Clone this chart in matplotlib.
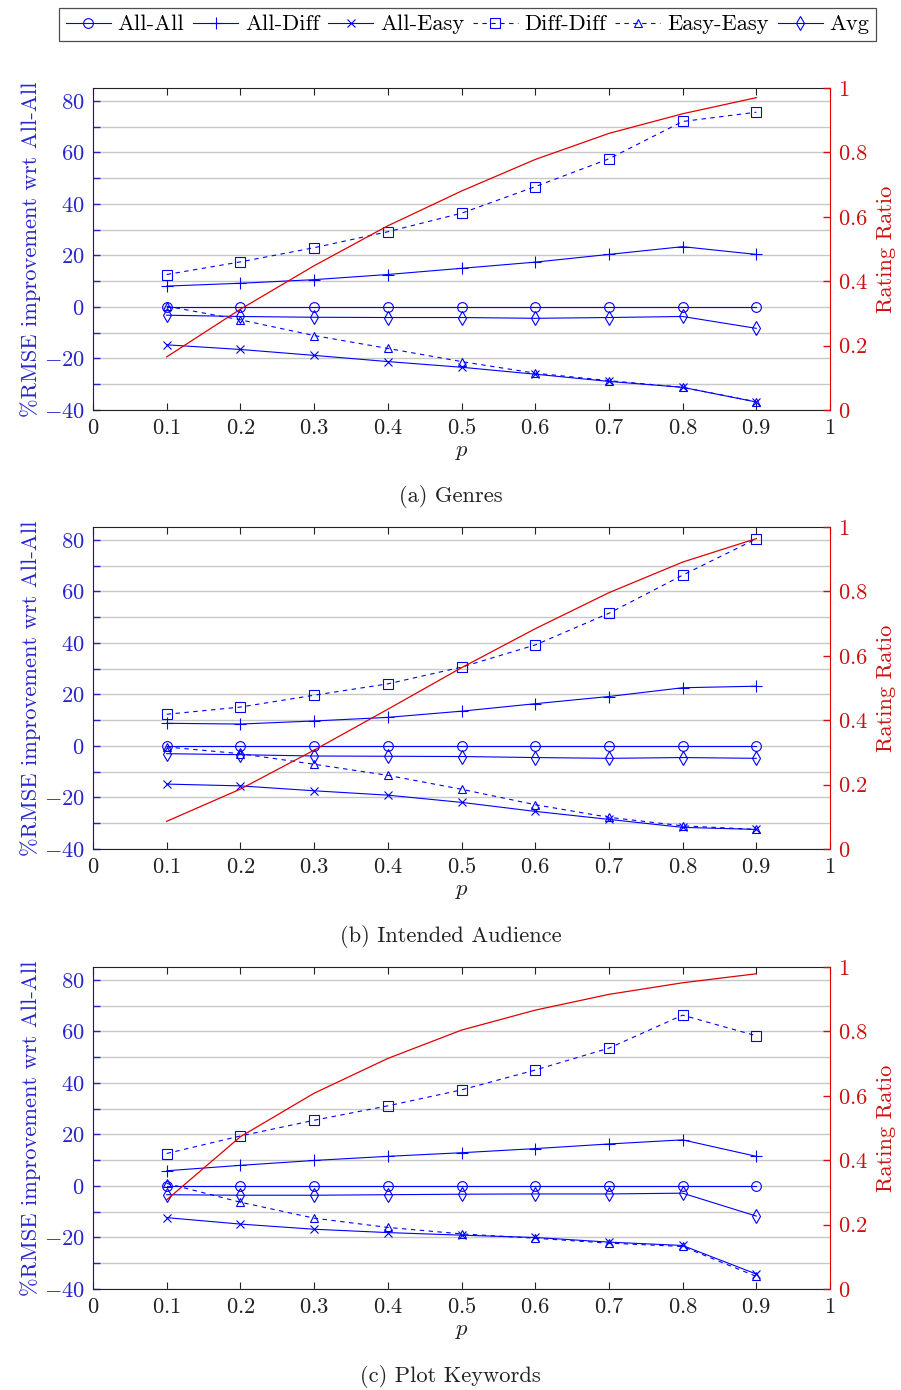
import matplotlib
matplotlib.use("Agg")
import matplotlib.pyplot as plt

plt.rcParams['font.family'] = ['cmr10', 'DejaVu Serif']
plt.rcParams['mathtext.fontset'] = 'cm'
plt.rcParams['axes.unicode_minus'] = False

p = [0.1, 0.2, 0.3, 0.4, 0.5, 0.6, 0.7, 0.8, 0.9]

# (a) Genres
a_all_all = [0, 0, 0, 0, 0, 0, 0, 0, 0]
a_all_diff = [8.1, 9.2, 10.6, 12.6, 15.0, 17.4, 20.4, 23.4, 20.4]
a_all_easy = [-14.7, -16.5, -18.8, -21.2, -23.4, -26.1, -28.9, -31.2, -36.9]
a_diff_diff = [12.6, 17.5, 23.0, 29.2, 36.4, 46.7, 57.5, 72.0, 75.6]
a_easy_easy = [0.3, -5.0, -11.1, -16.1, -21.2, -25.7, -28.6, -31.2, -36.8]
a_avg = [-3.2, -3.7, -4.0, -4.1, -4.1, -4.4, -4.1, -3.7, -8.3]
a_ratio = [0.165, 0.313, 0.448, 0.572, 0.680, 0.778, 0.859, 0.920, 0.970]

# (b) Intended Audience
b_all_all = [0, 0, 0, 0, 0, 0, 0, 0, 0]
b_all_diff = [8.8, 8.5, 9.7, 11.1, 13.5, 16.4, 19.2, 22.6, 23.2]
b_all_easy = [-14.8, -15.5, -17.4, -19.1, -21.9, -25.4, -28.5, -31.6, -32.4]
b_diff_diff = [12.3, 15.1, 19.7, 24.1, 30.6, 39.2, 51.5, 66.3, 80.4]
b_easy_easy = [-0.4, -3.0, -7.1, -11.4, -16.8, -22.8, -27.7, -31.0, -32.4]
b_avg = [-3.0, -3.4, -3.9, -4.0, -4.1, -4.5, -4.8, -4.5, -4.8]
b_ratio = [0.086, 0.186, 0.307, 0.434, 0.563, 0.684, 0.796, 0.891, 0.964]

# (c) Plot Keywords
c_all_all = [0, 0, 0, 0, 0, 0, 0, 0, 0]
c_all_diff = [5.9, 8.0, 9.9, 11.5, 12.9, 14.5, 16.3, 17.9, 11.5]
c_all_easy = [-12.3, -14.8, -16.8, -18.1, -19.1, -20.0, -21.8, -23.1, -34.2]
c_diff_diff = [12.6, 19.4, 25.5, 31.1, 37.3, 45.0, 53.5, 66.3, 58.3]
c_easy_easy = [1.0, -6.3, -12.5, -16.1, -18.6, -20.3, -22.2, -23.5, -35.1]
c_avg = [-3.4, -3.6, -3.6, -3.4, -3.2, -3.1, -3.1, -2.8, -11.7]
c_ratio = [0.277, 0.473, 0.608, 0.716, 0.804, 0.866, 0.915, 0.951, 0.979]

series_names = ["All-All", "All-Diff", "All-Easy", "Diff-Diff", "Easy-Easy", "Avg"]
captions = ["(a) Genres", "(b) Intended Audience", "(c) Plot Keywords"]

panels = [
    [a_all_all, a_all_diff, a_all_easy, a_diff_diff, a_easy_easy, a_avg, a_ratio],
    [b_all_all, b_all_diff, b_all_easy, b_diff_diff, b_easy_easy, b_avg, b_ratio],
    [c_all_all, c_all_diff, c_all_easy, c_diff_diff, c_easy_easy, c_avg, c_ratio],
]

markers = ['o', '+', 'x', 's', '^', 'd']
msizes = [7, 8.5, 6, 7, 6, 7]
styles = ['-', '-', '-', (0, (4, 4)), (0, (4, 4)), '-']

BLUE = '#0000ff'
TBLUE = '#2626cc'
RED = '#e00000'
TRED = '#cc1111'
FS = 16.2

W, H = 901, 1390
fig = plt.figure(figsize=(W / 100, H / 100), dpi=100)

left = 93 / W
width = (830 - 93) / W
tops = [88, 527, 967]
ax_h = 322
cap_y = [497, 937, 1376]

yticks = list(range(-40, 81, 10))
ylabels = [(r'$%d$' % v if v % 20 == 0 else '') for v in yticks]
xticks = [0, 0.1, 0.2, 0.3, 0.4, 0.5, 0.6, 0.7, 0.8, 0.9, 1]
xlabels = [r'$0$'] + [r'$%.1f$' % v for v in xticks[1:-1]] + [r'$1$']
rticks = [0, 0.2, 0.4, 0.6, 0.8, 1]
rlabels = [r'$0$', r'$0.2$', r'$0.4$', r'$0.6$', r'$0.8$', r'$1$']

handles = []
for i, data in enumerate(panels):
    bottom = (H - tops[i] - ax_h) / H
    ax = fig.add_axes([left, bottom, width, ax_h / H])
    ax.set_xlim(0, 1)
    ax.set_ylim(-40, 85)
    ax.set_yticks(yticks)
    ax.set_yticklabels(ylabels)
    ax.set_xticks(xticks)
    ax.set_xticklabels(xlabels)
    ax.grid(axis='y', color='#c8c8c8', linewidth=1.0)
    ax.set_axisbelow(True)
    for k in range(6):
        ln, = ax.plot(p, data[k], color=BLUE, linestyle=styles[k], linewidth=0.8,
                      marker=markers[k], markersize=msizes[k],
                      markerfacecolor='none', markeredgecolor=BLUE,
                      markeredgewidth=0.8, label=series_names[k], zorder=3)
        if i == 0:
            handles.append(ln)
    ax.tick_params(axis='x', direction='in', top=True, length=5, width=0.8,
                   labelsize=FS, colors='#222222', pad=6)
    ax.tick_params(axis='y', direction='in', length=5, width=1.0,
                   labelsize=FS, colors=TBLUE, pad=6)
    ax.spines['left'].set_color(BLUE)
    ax.spines['right'].set_visible(False)
    for s in ['top', 'bottom']:
        ax.spines[s].set_color('#222222')
    ax.set_ylabel('%RMSE improvement wrt All-All', color=TBLUE, fontsize=FS, labelpad=2)
    ax.set_xlabel(r'$p$', fontsize=FS, labelpad=3, color='#222222')

    ax2 = ax.twinx()
    ax2.set_ylim(0, 1)
    ax2.set_yticks(rticks)
    ax2.set_yticklabels(rlabels)
    ax2.plot(p, data[6], color=RED, linewidth=0.9, zorder=4)
    ax2.tick_params(axis='y', direction='in', length=5, width=1.0,
                    labelsize=FS, colors=TRED, pad=6)
    ax2.spines['right'].set_color(RED)
    ax2.spines['left'].set_visible(False)
    ax2.spines['top'].set_visible(False)
    ax2.spines['bottom'].set_visible(False)
    ax2.set_ylabel('Rating Ratio', color=TRED, fontsize=FS, labelpad=6)

    fig.text(0.5, 1 - cap_y[i] / H, captions[i], ha='center', va='center',
             fontsize=FS, color='#222222')

leg = fig.legend(handles=handles, loc='center', bbox_to_anchor=(467.5 / W, 1 - 24.5 / H),
                 ncol=6, fontsize=FS, frameon=True, fancybox=False, edgecolor='#222222',
                 handlelength=2.0, handletextpad=0.3, columnspacing=0.4,
                 borderpad=0.3, borderaxespad=0)
leg.get_frame().set_linewidth(0.9)

fig.savefig('out.png', dpi=100)
